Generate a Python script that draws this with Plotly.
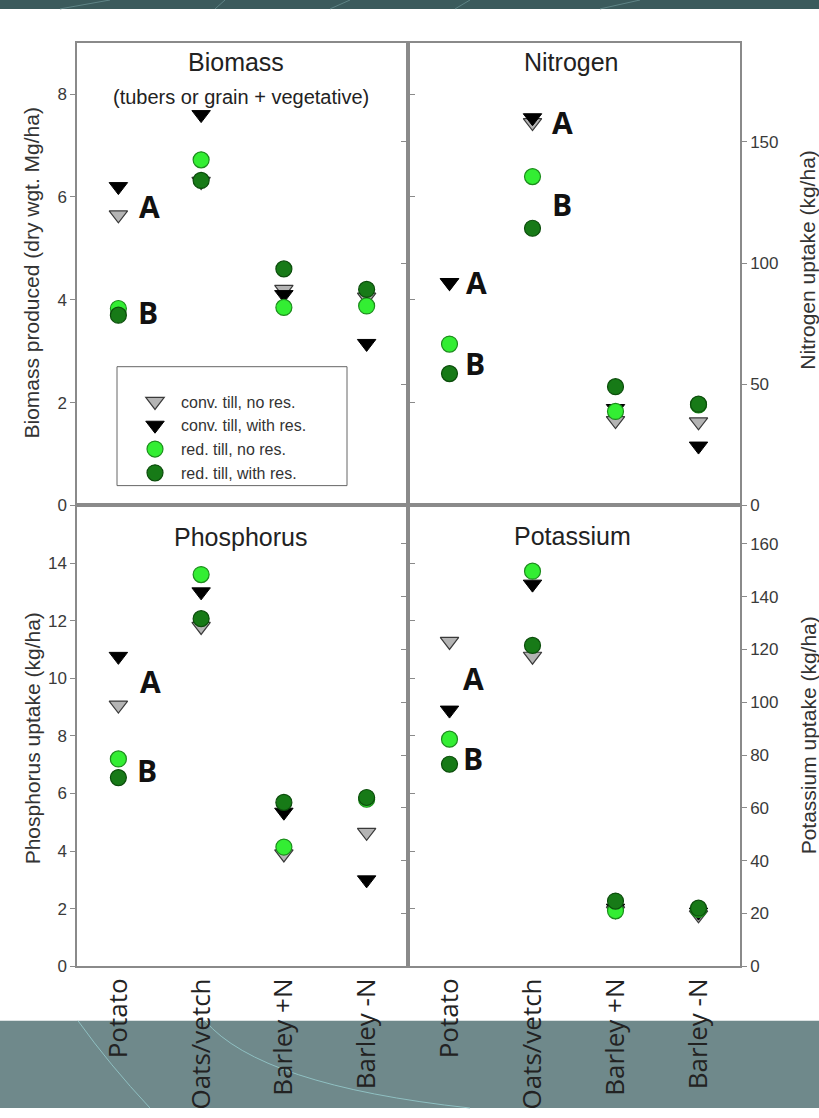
import plotly.graph_objects as go

W, H = 819, 1118

def fx(x):
    return x / W

def fy(y):
    return 1 - y / H

# ---------------- data ----------------
categories = ["Potato", "Oats/vetch", "Barley +N", "Barley -N"]
series_names = ["conv. till, no res.", "conv. till, with res.",
                "red. till, no res.", "red. till, with res."]

biomass_conv_no_res = [5.65, 6.30, 4.20, 4.05]
biomass_conv_with_res = [6.20, 7.60, 4.10, 3.15]
biomass_red_no_res = [3.83, 6.72, 3.85, 3.88]
biomass_red_with_res = [3.70, 6.32, 4.60, 4.20]

nitrogen_conv_no_res = [92.0, 158.0, 35.0, 34.5]
nitrogen_conv_with_res = [92.0, 160.0, 40.0, 24.5]
nitrogen_red_no_res = [66.6, 135.7, 38.8, 41.5]
nitrogen_red_with_res = [54.4, 114.4, 49.0, 41.8]

phosphorus_conv_no_res = [9.07, 11.8, 3.90, 4.65]
phosphorus_conv_with_res = [10.76, 13.0, 5.35, 3.00]
phosphorus_red_no_res = [7.20, 13.6, 4.14, 5.80]
phosphorus_red_with_res = [6.55, 12.07, 5.69, 5.86]

potassium_conv_no_res = [123.0, 117.4, 21.0, 19.5]
potassium_conv_with_res = [97.0, 144.7, 22.0, 20.5]
potassium_red_no_res = [86.0, 149.6, 21.0, 21.5]
potassium_red_with_res = [76.5, 121.5, 24.7, 22.0]

biomass_ticks = [0, 2, 4, 6, 8]
nitrogen_ticks = [0, 50, 100, 150]
phosphorus_ticks = [0, 2, 4, 6, 8, 10, 12, 14]
potassium_ticks = [0, 20, 40, 60, 80, 100, 120, 140, 160]

# significance letters: (panel, category position, value, text)
letters = [
    (1, 0.38, 5.82, "A"), (1, 0.36, 3.75, "B"),
    (2, 0.33, 92.0, "A"), (2, 0.31, 58.5, "B"),
    (2, 1.36, 158.0, "A"), (2, 1.35, 124.0, "B"),
    (3, 0.39, 9.9, "A"), (3, 0.35, 6.8, "B"),
    (4, 0.29, 109.0, "A"), (4, 0.28, 78.5, "B"),
]

# ---------------- styles ----------------
styles = [
    dict(symbol="triangle-down", size=16, color="#b4b4b4", line=dict(color="#3a3a3a", width=1.2)),
    dict(symbol="triangle-down", size=16, color="#000000", line=dict(color="#000000", width=1)),
    dict(symbol="circle", size=16, color="#33ee33", line=dict(color="#1d8c1d", width=1.2)),
    dict(symbol="circle", size=16, color="#177a17", line=dict(color="#0c4d0c", width=1.2)),
]

panels = [
    ("x", "y", [biomass_conv_no_res, biomass_conv_with_res, biomass_red_no_res, biomass_red_with_res]),
    ("x2", "y2", [nitrogen_conv_no_res, nitrogen_conv_with_res, nitrogen_red_no_res, nitrogen_red_with_res]),
    ("x3", "y3", [phosphorus_conv_no_res, phosphorus_conv_with_res, phosphorus_red_no_res, phosphorus_red_with_res]),
    ("x4", "y4", [potassium_conv_no_res, potassium_conv_with_res, potassium_red_no_res, potassium_red_with_res]),
]

fig = go.Figure()
for pi, (xa, ya, series) in enumerate(panels):
    for si, vals in enumerate(series):
        st = styles[si]
        fig.add_trace(go.Scatter(
            x=categories, y=vals, xaxis=xa, yaxis=ya, mode="markers",
            name=series_names[si], showlegend=(pi == 0),
            marker=dict(symbol=st["symbol"], size=st["size"], color=st["color"], line=st["line"]),
            hoverinfo="skip",
        ))

xL = [fx(77), fx(408)]
xR = [fx(408), fx(740)]
yT = [fy(510), fy(43)]
yB = [fy(975), fy(510)]

frame_col = "#8a8a8a"
tick_font = dict(family="Liberation Sans, Arial, sans-serif", size=17, color="#3a3a3a")
xlab_font = dict(family="Open Sans, Noto Sans, sans-serif", size=26, color="#222222")

def xaxis(domain, anchor, labels):
    return dict(domain=domain, anchor=anchor, type="category", categoryorder="array",
                categoryarray=categories, range=[-0.5, 3.5], showline=True, mirror=True,
                linecolor=frame_col, linewidth=1.5, ticks="", showgrid=False, zeroline=False,
                showticklabels=labels, tickangle=-90, tickfont=xlab_font, fixedrange=True)

def yaxis(domain, anchor, rng, tv, side):
    return dict(domain=domain, anchor=anchor, range=rng, tickvals=tv, side=side,
                showline=True, mirror="ticks", linecolor=frame_col, linewidth=1.5,
                ticks="outside", ticklen=5, tickcolor=frame_col, showgrid=False,
                zeroline=False, tickfont=tick_font, fixedrange=True)

fig.update_layout(
    width=W, height=H, margin=dict(l=0, r=0, t=0, b=0),
    paper_bgcolor="white", plot_bgcolor="white",
    xaxis=xaxis(xL, "y", False),
    xaxis2=xaxis(xR, "y2", False),
    xaxis3=xaxis(xL, "y3", True),
    xaxis4=xaxis(xR, "y4", True),
    yaxis=yaxis(yT, "x", [0, 9], biomass_ticks, "left"),
    yaxis2=yaxis(yT, "x2", [0, 191], nitrogen_ticks, "right"),
    yaxis3=yaxis(yB, "x3", [0, 16], phosphorus_ticks, "left"),
    yaxis4=yaxis(yB, "x4", [0, 174.5], potassium_ticks, "right"),
    legend=dict(x=fx(129), y=fy(388), xanchor="left", yanchor="top",
                bgcolor="rgba(0,0,0,0)", borderwidth=0, tracegroupgap=0,
                font=dict(family="Liberation Sans, Arial, sans-serif", size=16, color="#333333"),
                itemwidth=42),
)

annotations = []
title_font = dict(family="Liberation Sans, Arial, sans-serif", size=25, color="#222222")
for txt, x, y, f in [("Biomass", 236, 63, title_font),
                     ("(tubers or grain + vegetative)", 241, 98,
                      dict(family="Liberation Sans, Arial, sans-serif", size=20, color="#222222")),
                     ("Nitrogen", 571, 63, title_font),
                     ("Phosphorus", 240, 542, title_font),
                     ("Potassium", 572, 541, title_font)]:
    annotations.append(dict(text=txt, x=fx(x), y=fy(y), xref="paper", yref="paper",
                            xanchor="center", yanchor="middle", showarrow=False, font=f))

axis_title_font = dict(family="Liberation Sans, Arial, sans-serif", size=21, color="#333333")
for txt, x, y in [("Biomass produced (dry wgt. Mg/ha)", 32, 276),
                  ("Phosphorus uptake (kg/ha)", 32, 745),
                  ("Nitrogen uptake (kg/ha)", 808, 263),
                  ("Potassium uptake (kg/ha)", 808, 742)]:
    annotations.append(dict(text=txt, x=fx(x), y=fy(y), xref="paper", yref="paper",
                            xanchor="center", yanchor="middle", textangle=-90,
                            showarrow=False, font=axis_title_font))

letter_font = dict(family="Open Sans, Noto Sans, sans-serif", size=30, color="#111111")
for p, xv, yv, txt in letters:
    sfx = "" if p == 1 else str(p)
    annotations.append(dict(text="<b>%s</b>" % txt, x=xv, y=yv, xref="x" + sfx, yref="y" + sfx,
                            xanchor="center", yanchor="middle", showarrow=False, font=letter_font))

fig.update_layout(annotations=annotations)

shapes = [
    # top band
    dict(type="rect", xref="paper", yref="paper", x0=0, x1=1, y0=fy(9), y1=1,
         fillcolor="#3b5a5c", line=dict(width=0), layer="below"),
    # bottom band
    dict(type="rect", xref="paper", yref="paper", x0=0, x1=1, y0=0, y1=fy(1030),
         fillcolor="#6f898b", line=dict(width=0), layer="below"),
    # decorative curves in the bottom band
    dict(type="path", xref="paper", yref="paper", layer="below",
         path="M %f,%f Q %f,%f %f,%f" % (fx(78), fy(1030), fx(110), fy(1075), fx(150), fy(1118)),
         line=dict(color="#8fc0c2", width=1)),
    dict(type="path", xref="paper", yref="paper", layer="below",
         path="M %f,%f Q %f,%f %f,%f" % (fx(205), fy(1030), fx(260), fy(1095), fx(470), fy(1118)),
         line=dict(color="#8fc0c2", width=1)),
    # legend box
    dict(type="rect", xref="paper", yref="paper", x0=fx(117), x1=fx(347), y0=fy(490), y1=fy(370),
         line=dict(color="#666666", width=1), fillcolor="rgba(0,0,0,0)"),
]
# faint curves in the top band
for x0, x1 in [(60, 110), (215, 225), (330, 350), (455, 470), (600, 640), (850, 880)]:
    shapes.append(dict(type="line", xref="paper", yref="paper", layer="below",
                       x0=fx(x0), y0=fy(9), x1=fx(x1), y1=1,
                       line=dict(color="#5f8486", width=1)))
fig.update_layout(shapes=shapes)

fig.write_html("out.html")
